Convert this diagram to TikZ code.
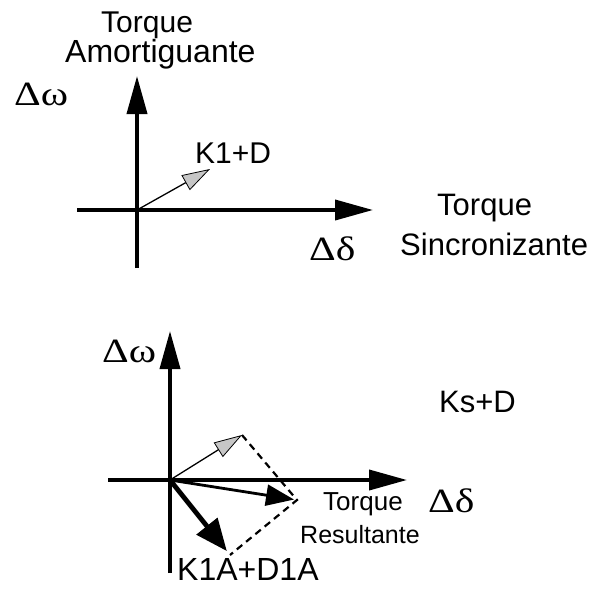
\documentclass[tikz,border=0pt]{standalone}
\usepackage{fontspec}
\usepackage{graphicx}
\setmainfont{Liberation Sans}
\newfontfamily\symfont{Liberation Serif}
\usetikzlibrary{arrows.meta}
\newcommand{\wide}[1]{\scalebox{1.22}[1]{#1}}
\begin{document}
\begin{tikzpicture}[x=1pt,y=-1pt,
  axis/.style={line width=3.8pt,-{Triangle[length=38pt,width=20pt]}},
  gvec/.style={line width=1.3pt,-{Triangle[length=28pt,width=17pt,fill=gray!45,line width=0.8pt]}},
  rvec/.style={line width=2.8pt,-{Triangle[length=28pt,width=21pt]}},
  kvec/.style={line width=4.8pt,-{Triangle[length=32pt,width=26pt]}},
  guide/.style={line width=2.2pt,dash pattern=on 7pt off 5pt},
  lbl/.style={inner sep=0pt,anchor=base west},
  sym/.style={inner sep=0pt,anchor=base west,font=\symfont\fontsize{34}{34}\selectfont}
]
\useasboundingbox (0,0) rectangle (596,595);

% ---------- upper phasor plane ----------
\coordinate (O1) at (137,210);
\coordinate (Y1b) at (137,268);
\coordinate (Y1t) at (137,76);
\coordinate (X1l) at (77,210);
\coordinate (X1r) at (373,210);
\coordinate (G1) at (210,169);

\draw[axis] (Y1b) -- (Y1t);
\draw[axis] (X1l) -- (X1r);
\draw[gvec] (O1) -- (G1);

\node[lbl,font=\fontsize{30}{30}\selectfont] (tqA) at (101,32) {Torque};
\node[lbl,font=\fontsize{32}{32}\selectfont] (amort) at (65,62) {Amortiguante};
\node[sym] (dw1) at (14,105) {\wide{Δω}};
\node[lbl,font=\fontsize{30}{30}\selectfont] (k1d) at (195,163) {K1+D};
\node[sym] (dd1) at (309,260) {\wide{Δδ}};
\node[lbl,font=\fontsize{31}{31}\selectfont] (tqS) at (437,215) {Torque};
\node[lbl,font=\fontsize{31}{31}\selectfont] (sinc) at (400,255) {Sincronizante};

% ---------- lower phasor plane ----------
\coordinate (O2) at (170,480);
\coordinate (Y2b) at (170,573);
\coordinate (Y2t) at (170,331);
\coordinate (X2l) at (108,480);
\coordinate (X2r) at (407,480);
\coordinate (G2) at (242,435);
\coordinate (R2) at (297,500);
\coordinate (K2) at (230,555);

\draw[axis] (Y2b) -- (Y2t);
\draw[axis] (X2l) -- (X2r);
\draw[guide] (G2) -- (R2) -- (K2);
\draw[gvec] (O2) -- (G2);
\draw[rvec,shorten >=3pt] (O2) -- (R2);
\draw[kvec,shorten >=5pt] (O2) -- (K2);

\node[sym] (dw2) at (102,362) {\wide{Δω}};
\node[lbl,font=\fontsize{31}{31}\selectfont] (ksd) at (439,412) {Ks+D};
\node[sym] (dd2) at (428,512) {\wide{Δδ}};
\node[lbl,font=\fontsize{26}{26}\selectfont] (tqR) at (323,510) {Torque};
\node[lbl,font=\fontsize{25}{25}\selectfont] (res) at (300,543) {Resultante};
\node[lbl,font=\fontsize{32}{32}\selectfont] (k1a) at (177,580) {K1A+D1A};
\end{tikzpicture}
\end{document}
